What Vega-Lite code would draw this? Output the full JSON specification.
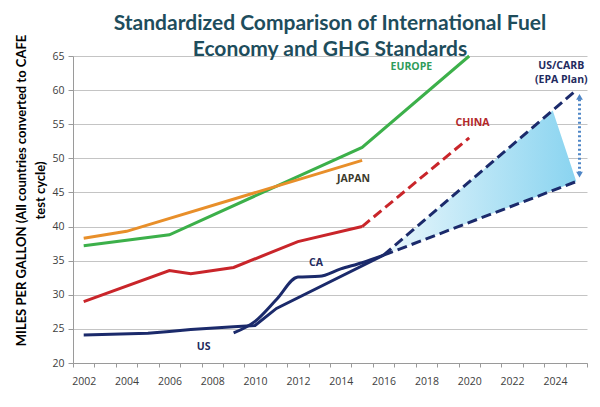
{
  "$schema": "https://vega.github.io/schema/vega-lite/v6.json",
  "width": 514,
  "height": 307,
  "autosize": {"type": "none"},
  "padding": {"left": 73, "top": 56, "right": 13, "bottom": 44},
  "background": "white",
  "title": {
    "text": ["Standardized Comparison of International Fuel", "Economy and GHG Standards"],
    "font": "Lato",
    "fontSize": 21,
    "fontWeight": 700,
    "color": "#1e4d5c",
    "anchor": "middle",
    "lineHeight": 26,
    "offset": 1,
    "dy": 27
  },
  "config": {
    "view": {"stroke": null},
    "axis": {
      "labelFont": "Open Sans",
      "labelFontSize": 10.5,
      "labelColor": "#404040",
      "domainColor": "#9a9a9a",
      "tickColor": "#9a9a9a",
      "gridColor": "#c4c4c4",
      "labelOverlap": false
    }
  },
  "datasets": {
    "solid": [
      {"series": "Europe", "year": 2002, "value": 37.2},
      {"series": "Europe", "year": 2006, "value": 38.8},
      {"series": "Europe", "year": 2015, "value": 51.6},
      {"series": "Europe", "year": 2020, "value": 65.0},
      {"series": "Japan", "year": 2002, "value": 38.3},
      {"series": "Japan", "year": 2004, "value": 39.3},
      {"series": "Japan", "year": 2015, "value": 49.7},
      {"series": "China", "year": 2002, "value": 29.0},
      {"series": "China", "year": 2006, "value": 33.55},
      {"series": "China", "year": 2007, "value": 33.1},
      {"series": "China", "year": 2009, "value": 34.0},
      {"series": "China", "year": 2012, "value": 37.8},
      {"series": "China", "year": 2015, "value": 40.0},
      {"series": "US", "year": 2002, "value": 24.1},
      {"series": "US", "year": 2005, "value": 24.35},
      {"series": "US", "year": 2006, "value": 24.6},
      {"series": "US", "year": 2007, "value": 24.9},
      {"series": "US", "year": 2009, "value": 25.3},
      {"series": "US", "year": 2010, "value": 25.5},
      {"series": "US", "year": 2011, "value": 28.0},
      {"series": "US", "year": 2016, "value": 35.8}
    ],
    "ca": [
      {"series": "CA", "year": 2009, "value": 24.4},
      {"series": "CA", "year": 2010, "value": 26.1},
      {"series": "CA", "year": 2011, "value": 29.3},
      {"series": "CA", "year": 2012, "value": 32.6},
      {"series": "CA", "year": 2013, "value": 32.7},
      {"series": "CA", "year": 2014, "value": 33.8},
      {"series": "CA", "year": 2015, "value": 34.7},
      {"series": "CA", "year": 2016, "value": 35.8}
    ],
    "dashed": [
      {"series": "China proj", "year": 2015, "value": 40.0},
      {"series": "China proj", "year": 2020, "value": 53.0},
      {"series": "EPA high", "year": 2016, "value": 35.8},
      {"series": "EPA high", "year": 2025, "value": 60.0},
      {"series": "EPA low", "year": 2016, "value": 35.8},
      {"series": "EPA low", "year": 2025, "value": 46.6}
    ],
    "fill": [
      {"year": 2016, "lo": 35.8, "hi": 35.8},
      {"year": 2023.9, "lo": 45.3, "hi": 57.0},
      {"year": 2025, "lo": 46.6, "hi": 46.6}
    ],
    "arrow": [
      {"year": 2025.15, "lo": 47.8, "hi": 58.8}
    ],
    "heads": [
      {"year": 2025.15, "value": 59.0, "dir": "up"},
      {"year": 2025.15, "value": 47.6, "dir": "down"}
    ],
    "labels": [
      {"text": "EUROPE", "year": 2017.3, "value": 63.4, "group": "Europe"},
      {"text": "CHINA", "year": 2020.15, "value": 55.2, "group": "China"},
      {"text": "JAPAN", "year": 2014.6, "value": 46.9, "group": "Japan"},
      {"text": "CA", "year": 2012.85, "value": 34.6, "group": "Navy"},
      {"text": "US", "year": 2007.6, "value": 22.3, "group": "Navy"},
      {"text": "US/CARB", "year": 2024.3, "value": 63.6, "group": "Navy"},
      {"text": "(EPA Plan)", "year": 2024.3, "value": 61.45, "group": "Navy"}
    ]
  },
  "layer": [
    {
      "data": {"name": "fill"},
      "mark": {
        "type": "area",
        "color": {
          "gradient": "linear",
          "x1": 0, "y1": 0, "x2": 1, "y2": 0,
          "stops": [
            {"offset": 0, "color": "#eaf7fc"},
            {"offset": 1, "color": "#8ad4f0"}
          ]
        }
      },
      "encoding": {
        "x": {
          "field": "year", "type": "quantitative",
          "scale": {"domain": [2001.5, 2025.5], "nice": false, "zero": false},
          "axis": {
            "orient": "bottom",
            "values": [2001.5, 2002.5, 2003.5, 2004.5, 2005.5, 2006.5, 2007.5, 2008.5, 2009.5, 2010.5, 2011.5, 2012.5, 2013.5, 2014.5, 2015.5, 2016.5, 2017.5, 2018.5, 2019.5, 2020.5, 2021.5, 2022.5, 2023.5, 2024.5, 2025.5],
            "labels": false, "grid": false, "ticks": true, "tickSize": 4, "title": null, "domain": true
          }
        },
        "y": {
          "field": "lo", "type": "quantitative",
          "scale": {"domain": [20, 65], "nice": false, "zero": false},
          "axis": {
            "values": [20, 25, 30, 35, 40, 45, 50, 55, 60, 65],
            "grid": true, "tickSize": 5, "labelPadding": 4,
            "title": ["MILES PER GALLON (All countries converted to CAFE", "test cycle)"],
            "titleFont": "Lato", "titleFontSize": 13, "titleFontWeight": 700, "titleColor": "#000000",
            "titleAngle": -90, "titleAlign": "center", "titleBaseline": "top", "titleLineHeight": 19,
            "titleX": -58, "titleY": 134
          }
        },
        "y2": {"field": "hi"}
      }
    },
    {
      "data": {"name": "solid"},
      "mark": {"type": "line", "strokeWidth": 3},
      "encoding": {
        "x": {
          "field": "year", "type": "quantitative",
          "scale": {"domain": [2001.5, 2025.5], "nice": false, "zero": false},
          "axis": {
            "orient": "bottom",
            "values": [2002, 2004, 2006, 2008, 2010, 2012, 2014, 2016, 2018, 2020, 2022, 2024],
            "format": "d", "ticks": false, "domain": false, "grid": false, "labelPadding": 13, "title": null
          }
        },
        "y": {
          "field": "value", "type": "quantitative",
          "scale": {"domain": [20, 65], "nice": false, "zero": false},
          "axis": {
            "values": [20, 25, 30, 35, 40, 45, 50, 55, 60, 65],
            "grid": true, "tickSize": 5, "labelPadding": 4,
            "title": ["MILES PER GALLON (All countries converted to CAFE", "test cycle)"],
            "titleFont": "Lato", "titleFontSize": 13, "titleFontWeight": 700, "titleColor": "#000000",
            "titleAngle": -90, "titleAlign": "center", "titleBaseline": "top", "titleLineHeight": 19,
            "titleX": -58, "titleY": 134
          }
        },
        "color": {
          "field": "series", "type": "nominal", "legend": null,
          "scale": {
            "domain": ["Europe", "Japan", "China", "US", "CA", "China proj", "EPA high", "EPA low"],
            "range": ["#3cb04a", "#e88f2a", "#c9252a", "#1b2a6b", "#1b2a6b", "#c9252a", "#1b2a6b", "#1b2a6b"]
          }
        }
      }
    },
    {
      "data": {"name": "ca"},
      "mark": {"type": "line", "strokeWidth": 3, "interpolate": "monotone"},
      "encoding": {
        "x": {"field": "year", "type": "quantitative", "axis": null, "scale": {"domain": [2001.5, 2025.5], "nice": false, "zero": false}},
        "y": {
          "field": "value", "type": "quantitative",
          "scale": {"domain": [20, 65], "nice": false, "zero": false},
          "axis": {
            "values": [20, 25, 30, 35, 40, 45, 50, 55, 60, 65],
            "grid": true, "tickSize": 5, "labelPadding": 4,
            "title": ["MILES PER GALLON (All countries converted to CAFE", "test cycle)"],
            "titleFont": "Lato", "titleFontSize": 13, "titleFontWeight": 700, "titleColor": "#000000",
            "titleAngle": -90, "titleAlign": "center", "titleBaseline": "top", "titleLineHeight": 19,
            "titleX": -58, "titleY": 134
          }
        },
        "color": {
          "field": "series", "type": "nominal", "legend": null,
          "scale": {
            "domain": ["Europe", "Japan", "China", "US", "CA", "China proj", "EPA high", "EPA low"],
            "range": ["#3cb04a", "#e88f2a", "#c9252a", "#1b2a6b", "#1b2a6b", "#c9252a", "#1b2a6b", "#1b2a6b"]
          }
        }
      }
    },
    {
      "data": {"name": "dashed"},
      "mark": {"type": "line", "strokeWidth": 3, "strokeDash": [10, 5]},
      "encoding": {
        "x": {"field": "year", "type": "quantitative", "axis": null, "scale": {"domain": [2001.5, 2025.5], "nice": false, "zero": false}},
        "y": {
          "field": "value", "type": "quantitative",
          "scale": {"domain": [20, 65], "nice": false, "zero": false},
          "axis": {
            "values": [20, 25, 30, 35, 40, 45, 50, 55, 60, 65],
            "grid": true, "tickSize": 5, "labelPadding": 4,
            "title": ["MILES PER GALLON (All countries converted to CAFE", "test cycle)"],
            "titleFont": "Lato", "titleFontSize": 13, "titleFontWeight": 700, "titleColor": "#000000",
            "titleAngle": -90, "titleAlign": "center", "titleBaseline": "top", "titleLineHeight": 19,
            "titleX": -58, "titleY": 134
          }
        },
        "color": {
          "field": "series", "type": "nominal", "legend": null,
          "scale": {
            "domain": ["Europe", "Japan", "China", "US", "CA", "China proj", "EPA high", "EPA low"],
            "range": ["#3cb04a", "#e88f2a", "#c9252a", "#1b2a6b", "#1b2a6b", "#c9252a", "#1b2a6b", "#1b2a6b"]
          }
        }
      }
    },
    {
      "data": {"name": "arrow"},
      "mark": {"type": "rule", "color": "#4f86c6", "strokeWidth": 3, "strokeDash": [2, 2.5]},
      "encoding": {
        "x": {"field": "year", "type": "quantitative", "axis": null, "scale": {"domain": [2001.5, 2025.5], "nice": false, "zero": false}},
        "y": {
          "field": "lo", "type": "quantitative",
          "scale": {"domain": [20, 65], "nice": false, "zero": false},
          "axis": {
            "values": [20, 25, 30, 35, 40, 45, 50, 55, 60, 65],
            "grid": true, "tickSize": 5, "labelPadding": 4,
            "title": ["MILES PER GALLON (All countries converted to CAFE", "test cycle)"],
            "titleFont": "Lato", "titleFontSize": 13, "titleFontWeight": 700, "titleColor": "#000000",
            "titleAngle": -90, "titleAlign": "center", "titleBaseline": "top", "titleLineHeight": 19,
            "titleX": -58, "titleY": 134
          }
        },
        "y2": {"field": "hi"}
      }
    },
    {
      "data": {"name": "heads"},
      "mark": {"type": "point", "filled": true, "color": "#4f86c6", "size": 45, "opacity": 1},
      "encoding": {
        "x": {"field": "year", "type": "quantitative", "axis": null, "scale": {"domain": [2001.5, 2025.5], "nice": false, "zero": false}},
        "y": {
          "field": "value", "type": "quantitative",
          "scale": {"domain": [20, 65], "nice": false, "zero": false},
          "axis": {
            "values": [20, 25, 30, 35, 40, 45, 50, 55, 60, 65],
            "grid": true, "tickSize": 5, "labelPadding": 4,
            "title": ["MILES PER GALLON (All countries converted to CAFE", "test cycle)"],
            "titleFont": "Lato", "titleFontSize": 13, "titleFontWeight": 700, "titleColor": "#000000",
            "titleAngle": -90, "titleAlign": "center", "titleBaseline": "top", "titleLineHeight": 19,
            "titleX": -58, "titleY": 134
          }
        },
        "shape": {"field": "dir", "type": "nominal", "legend": null, "scale": {"domain": ["up", "down"], "range": ["triangle-up", "triangle-down"]}}
      }
    },
    {
      "data": {"name": "labels"},
      "mark": {"type": "text", "font": "Open Sans", "fontSize": 10.5, "fontWeight": 700},
      "encoding": {
        "x": {"field": "year", "type": "quantitative", "axis": null, "scale": {"domain": [2001.5, 2025.5], "nice": false, "zero": false}},
        "y": {
          "field": "value", "type": "quantitative",
          "scale": {"domain": [20, 65], "nice": false, "zero": false},
          "axis": {
            "values": [20, 25, 30, 35, 40, 45, 50, 55, 60, 65],
            "grid": true, "tickSize": 5, "labelPadding": 4,
            "title": ["MILES PER GALLON (All countries converted to CAFE", "test cycle)"],
            "titleFont": "Lato", "titleFontSize": 13, "titleFontWeight": 700, "titleColor": "#000000",
            "titleAngle": -90, "titleAlign": "center", "titleBaseline": "top", "titleLineHeight": 19,
            "titleX": -58, "titleY": 134
          }
        },
        "text": {"field": "text"},
        "fill": {
          "field": "group", "type": "nominal", "legend": null,
          "scale": {"domain": ["Europe", "China", "Japan", "Navy"], "range": ["#2f9c5a", "#b3272a", "#3b3a2c", "#1f2b5e"]}
        }
      }
    }
  ],
  "resolve": {"axis": {"x": "independent"}}
}
